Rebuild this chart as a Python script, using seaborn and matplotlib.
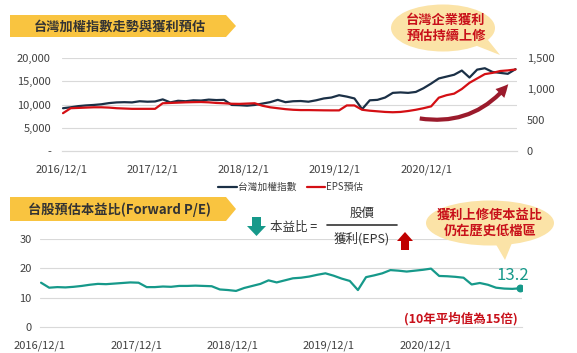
import numpy as np
import pandas as pd
import matplotlib
matplotlib.use("Agg")
import matplotlib.pyplot as plt
import seaborn as sns
from matplotlib.patches import Polygon, Ellipse, FancyArrowPatch
from matplotlib.lines import Line2D

sns.set_style("white")
plt.rcParams['font.family'] = ['Noto Sans CJK TC', 'DejaVu Sans']

# monthly readings, 2016/12 .. 2021/11
taiex = [9200,
         9400, 9650, 9800, 9900, 10050, 10300, 10450, 10500, 10450, 10700, 10600, 10650,
         11100, 10450, 10800, 10700, 10900, 10850, 11050, 10950, 11000, 9900, 9850, 9750,
         9900, 10200, 10500, 11000, 10500, 10700, 10750, 10600, 10900, 11300, 11500, 12000,
         11700, 11300, 9000, 10900, 11000, 11500, 12500, 12600, 12500, 12700, 13500, 14500,
         15600, 16000, 16400, 17300, 15800, 17500, 17800, 17000, 16800, 16600, 17600]
eps = [610,
       690, 695, 700, 705, 705, 700, 690, 685, 680, 680, 680, 680,
       770, 775, 780, 785, 788, 790, 785, 775, 770, 762, 760, 765,
       770, 730, 705, 690, 675, 665, 660, 660, 658, 656, 655, 655,
       735, 735, 665, 650, 640, 630, 625, 630, 645, 665, 690, 720,
       860, 900, 925, 1000, 1100, 1170, 1240, 1260, 1290, 1300, 1315]
pe = [15.1,
      13.4, 13.6, 13.5, 13.7, 14.0, 14.4, 14.7, 14.6, 14.8, 15.0, 15.2, 15.1,
      13.6, 13.6, 13.8, 13.7, 14.0, 14.0, 14.1, 14.0, 13.9, 12.8, 12.6, 12.3,
      13.3, 14.0, 14.7, 15.9, 15.2, 15.9, 16.6, 16.8, 17.2, 17.8, 18.3, 17.5,
      16.5, 15.7, 12.6, 17.0, 17.6, 18.3, 19.4, 19.2, 18.9, 19.2, 19.5, 19.9,
      17.4, 17.3, 17.1, 16.8, 14.5, 15.0, 14.4, 13.4, 13.1, 13.0, 13.2]
dates = pd.date_range('2016-12-05', '2021-11-25', periods=len(taiex))

tick_dates = pd.to_datetime(['2016-12-01', '2017-12-01', '2018-12-01', '2019-12-01', '2020-12-01'])
tick_labels = ['2016/12/1', '2017/12/1', '2018/12/1', '2019/12/1', '2020/12/1']
left_ticks = [0, 5000, 10000, 15000, 20000]
left_labels = ['-', '5,000', '10,000', '15,000', '20,000']
right_ticks = [0, 500, 1000, 1500]
right_labels = ['0', '500', '1,000', '1,500']
pe_ticks = [0, 10, 20, 30]

navy = '#1b3046'
red = '#d40f14'
teal = '#16998a'
grid_c = '#d9d9d9'
txt_c = '#404040'
W, H = 577, 353

fig = plt.figure(figsize=(W / 100, H / 100), dpi=100)
fig.patch.set_facecolor('white')

def px_axes(x0, y0, x1, y1):
    return fig.add_axes([x0 / W, 1 - y1 / H, (x1 - x0) / W, (y1 - y0) / H])

xmin, xmax = pd.Timestamp('2016-12-01'), pd.Timestamp('2021-12-01')

# top chart
ax = px_axes(62, 58, 517, 151)
ax2 = ax.twinx()
sns.lineplot(x=dates, y=taiex, ax=ax, color=navy, linewidth=1.6)
sns.lineplot(x=dates, y=eps, ax=ax2, color=red, linewidth=1.6)
ax.set_ylim(0, 20000)
ax2.set_ylim(0, 1500)
ax.set_xlim(xmin, xmax)
ax.set_yticks(left_ticks)
ax.set_yticklabels(left_labels)
ax2.set_yticks(right_ticks)
ax2.set_yticklabels(right_labels)
ax.set_xticks(tick_dates)
ax.set_xticklabels(tick_labels)
for v in left_ticks[1:]:
    ax.axhline(v, color=grid_c, linewidth=0.8, zorder=0)
for a in (ax, ax2):
    for s in ['top', 'left', 'right']:
        a.spines[s].set_visible(False)
    a.spines['bottom'].set_color(grid_c)
    a.set_xlabel('')
    a.set_ylabel('')
ax.tick_params(axis='y', length=0, pad=8, labelsize=8, labelcolor=txt_c)
ax2.tick_params(axis='y', length=0, pad=7, labelsize=8, labelcolor=txt_c)
ax.tick_params(axis='x', length=4, color=grid_c, pad=6, labelsize=8, labelcolor=txt_c)

handles = [Line2D([], [], color=navy, linewidth=1.6), Line2D([], [], color=red, linewidth=1.6)]
fig.legend(handles, ['台灣加權指數', 'EPS預估'], loc='center', bbox_to_anchor=(291 / W, 1 - 187 / H),
           ncol=2, frameon=False, fontsize=7, handlelength=1.9, handletextpad=0.15,
           columnspacing=1.0, labelcolor=txt_c)

# bottom chart
bx = px_axes(40, 239, 522, 327)
sns.lineplot(x=dates, y=pe, ax=bx, color=teal, linewidth=1.6)
bx.scatter([dates[-1]], [pe[-1]], s=22, color=teal, zorder=5)
bx.set_ylim(0, 30)
bx.set_xlim(xmin, xmax)
bx.set_yticks(pe_ticks)
bx.set_xticks(tick_dates)
bx.set_xticklabels(tick_labels)
for v in pe_ticks[1:]:
    bx.axhline(v, color=grid_c, linewidth=0.8, zorder=0)
for s in ['top', 'left', 'right']:
    bx.spines[s].set_visible(False)
bx.spines['bottom'].set_color(grid_c)
bx.set_xlabel('')
bx.set_ylabel('')
bx.tick_params(axis='y', length=0, pad=6, labelsize=8, labelcolor=txt_c)
bx.tick_params(axis='x', length=4, color=grid_c, pad=6, labelsize=8, labelcolor=txt_c)

# overlay for banners, bubbles and arrows
ov = fig.add_axes([0, 0, 1, 1])
ov.set_xlim(0, W)
ov.set_ylim(H, 0)
ov.axis('off')
ov.patch.set_alpha(0)

banner_c = '#f9c440'
for y0, y1, title in [(15, 37, '台灣加權指數走勢與獲利預估'), (197, 221, '台股預估本益比(Forward P/E)')]:
    ov.add_patch(Polygon([(10, y0), (226, y0), (236, (y0 + y1) / 2), (226, y1), (10, y1)],
                         closed=True, color=banner_c, lw=0))
    ov.text(120, (y0 + y1) / 2 + 0.5, title, ha='center', va='center', fontsize=9.5,
            fontweight='bold', color='#333333')

bubble_c = '#fbe3a7'
ov.add_patch(Ellipse((443, 28), 104, 47, color=bubble_c, lw=0))
ov.add_patch(Polygon([(472, 44), (488, 40), (500, 55)], closed=True, color=bubble_c, lw=0))
ov.text(446, 28, '台灣企業獲利\n預估持續上修', ha='center', va='center', fontsize=9.5,
        fontweight='bold', color='#c8101a', linespacing=1.2)

ov.add_patch(Ellipse((490, 223), 128, 45, color=bubble_c, lw=0))
ov.add_patch(Polygon([(494, 241), (514, 238), (505, 260)], closed=True, color=bubble_c, lw=0))
ov.text(490, 223, '獲利上修使本益比\n仍在歷史低檔區', ha='center', va='center', fontsize=9.5,
        fontweight='bold', color='#c8101a', linespacing=1.2)

ov.add_patch(FancyArrowPatch((417, 118), (510, 82), connectionstyle='arc3,rad=0.3',
                             arrowstyle='simple,head_length=9,head_width=9,tail_width=3',
                             mutation_scale=1, color='#9b1b2c', lw=0, zorder=6))

# formula
ov.add_patch(Polygon([(252, 217), (261, 217), (261, 226), (266, 226), (256.5, 236),
                      (247, 226), (252, 226)], closed=True, color=teal, lw=0))
ov.text(270, 227, '本益比 =', ha='left', va='center', fontsize=9, color='#333333')
ov.plot([327, 397], [225, 225], color='#333333', lw=1.2)
ov.text(362, 213, '股價', ha='center', va='center', fontsize=9, color='#333333')
ov.text(362, 239, '獲利(EPS)', ha='center', va='center', fontsize=9, color='#333333')
ov.add_patch(Polygon([(401, 250), (409, 250), (409, 241), (413, 241), (405, 232),
                      (397, 241), (401, 241)], closed=True, color='#c00000', lw=0))

ov.text(513, 276, '13.2', ha='center', va='center', fontsize=12, color=teal)
ov.text(461, 319, '(10年平均值為15倍)', ha='center', va='center', fontsize=9,
        fontweight='bold', color='#c8101a')

fig.savefig('out.png', dpi=100)
